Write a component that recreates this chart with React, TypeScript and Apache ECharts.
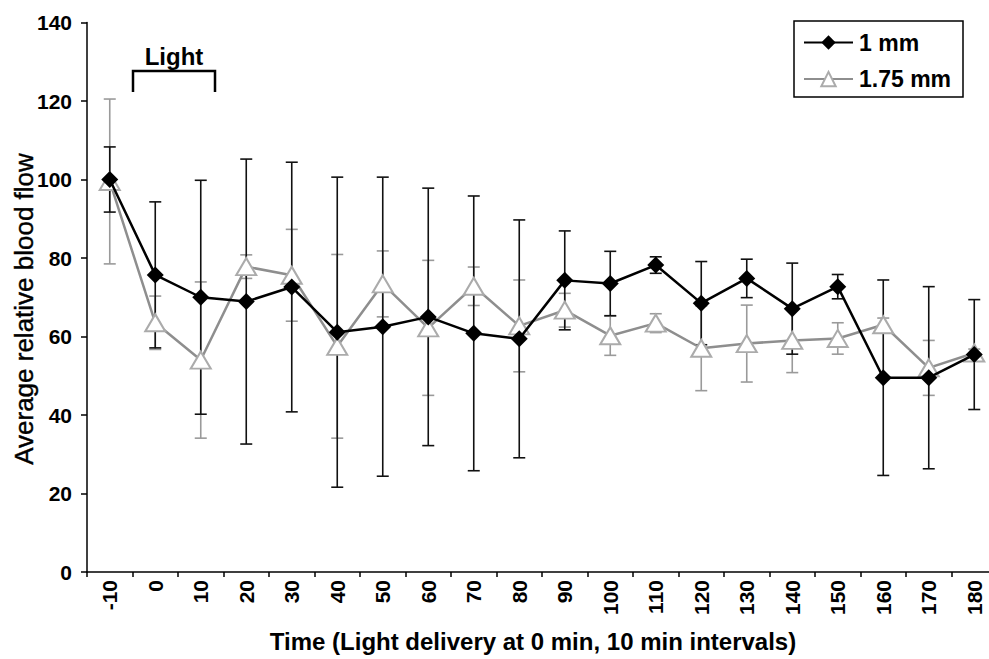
import React, { useEffect, useRef } from 'react';
import * as echarts from 'echarts';

const categories = ['-10', '0', '10', '20', '30', '40', '50', '60', '70', '80', '90', '100', '110', '120', '130', '140', '150', '160', '170', '180'];
const mean1mm = [100, 75.7, 70, 68.9, 72.6, 61.1, 62.5, 65, 60.8, 59.4, 74.3, 73.5, 78.2, 68.5, 74.8, 67.1, 72.7, 49.5, 49.5, 55.4];
const err1mm = [8.3, 18.6, 29.8, 36.3, 31.8, 39.5, 38.1, 32.8, 35, 30.3, 12.6, 8.2, 2.1, 10.6, 4.9, 11.6, 3.1, 24.9, 23.2, 14];
const mean175 = [99.5, 63.5, 54, 77.8, 75.6, 57.5, 73.4, 62.2, 72.8, 62.7, 66.7, 60.2, 63.4, 57, 58.2, 59, 59.5, 63, 52, 55.8];
const err175 = [21, 6.8, 19.9, 3, 11.7, 23.4, 8.4, 17.2, 4.9, 11.7, 4.3, 5, 2.4, 10.8, 9.8, 8.2, 4, 1.7, 7, 1];

const FONT = '"Liberation Sans", Arial, sans-serif';

function errorBarSeries(name: string, means: number[], errs: number[], color: string) {
  return {
    type: 'custom',
    name,
    coordinateSystem: 'cartesian2d',
    clip: false,
    silent: true,
    encode: { x: 0, y: [1, 2] },
    data: means.map((m, i) => [i, m - errs[i], m + errs[i]]),
    renderItem: (params: any, api: any) => {
      const idx = api.value(0);
      const lo = api.coord([idx, api.value(1)]);
      const hi = api.coord([idx, api.value(2)]);
      const hw = 6;
      const style = { stroke: color, lineWidth: 1.6 };
      return {
        type: 'group',
        children: [
          { type: 'line', shape: { x1: lo[0], y1: lo[1], x2: hi[0], y2: hi[1] }, style },
          { type: 'line', shape: { x1: lo[0] - hw, y1: lo[1], x2: lo[0] + hw, y2: lo[1] }, style },
          { type: 'line', shape: { x1: hi[0] - hw, y1: hi[1], x2: hi[0] + hw, y2: hi[1] }, style },
        ],
      };
    },
  };
}

export default function App() {
  const ref = useRef<HTMLDivElement>(null);
  useEffect(() => {
    if (!ref.current) return;
    const chart = echarts.init(ref.current, null, { renderer: 'svg' });
    chart.setOption({
      animation: false,
      textStyle: { fontFamily: FONT },
      grid: { left: 87, right: 3, top: 22.5, bottom: 87, containLabel: false },
      legend: {
        data: ['1 mm', '1.75 mm'],
        orient: 'vertical',
        left: 803,
        top: 31,
        padding: 0,
        itemWidth: 49,
        itemHeight: 18,
        itemGap: 13.6,
        textStyle: { fontSize: 23, fontWeight: 'bold', color: '#000', fontFamily: FONT, padding: [0, 0, 0, 1] },
      },
      xAxis: {
        type: 'category',
        data: categories,
        boundaryGap: true,
        axisLine: { lineStyle: { color: '#000', width: 1.5 } },
        axisTick: { show: true, length: 5, lineStyle: { color: '#000', width: 1.5 } },
        axisLabel: { rotate: 90, interval: 0, margin: 8, fontSize: 21, fontWeight: 'bold', color: '#000', fontFamily: FONT },
        splitLine: { show: false },
      },
      yAxis: {
        type: 'value',
        min: 0,
        max: 140,
        interval: 20,
        axisLine: { show: true, lineStyle: { color: '#000', width: 1.5 } },
        axisTick: { show: true, length: 6, lineStyle: { color: '#000', width: 1.5 } },
        axisLabel: { margin: 15, fontSize: 21, fontWeight: 'bold', color: '#000', fontFamily: FONT },
        splitLine: { show: false },
      },
      graphic: [
        {
          type: 'text',
          x: 24,
          y: 309,
          rotation: Math.PI / 2,
          style: {
            text: 'Average relative blood flow',
            font: `normal 26px ${FONT}`,
            fill: '#000',
            stroke: '#000',
            lineWidth: 0.4,
            align: 'center',
            verticalAlign: 'middle',
          },
        },
        {
          type: 'text',
          x: 533,
          y: 641,
          style: {
            text: 'Time (Light delivery at 0 min, 10 min intervals)',
            font: `bold 24px ${FONT}`,
            fill: '#000',
            align: 'center',
            verticalAlign: 'middle',
          },
        },
        {
          type: 'text',
          x: 174,
          y: 56,
          style: {
            text: 'Light',
            font: `bold 24px ${FONT}`,
            fill: '#000',
            align: 'center',
            verticalAlign: 'middle',
          },
        },
        {
          type: 'polyline',
          shape: { points: [[133, 92], [133, 71], [215, 71], [215, 92]] },
          style: { stroke: '#000', lineWidth: 2.5, fill: 'none' },
        },
        {
          type: 'rect',
          shape: { x: 794, y: 21, width: 169, height: 76 },
          style: { stroke: '#000', lineWidth: 1.5, fill: 'none' },
        },
      ],
      series: [
        errorBarSeries('err175', mean175, err175, '#9a9a9a'),
        errorBarSeries('err1mm', mean1mm, err1mm, '#111'),
        {
          type: 'line',
          name: '1.75 mm',
          data: mean175,
          symbol: 'triangle',
          symbolSize: [20, 17],
          lineStyle: { color: '#8e8e8e', width: 2.5 },
          itemStyle: { color: '#ffffff', borderColor: '#ababab', borderWidth: 2, opacity: 1 },
          z: 3,
        },
        {
          type: 'line',
          name: '1 mm',
          data: mean1mm,
          symbol: 'diamond',
          symbolSize: 17,
          lineStyle: { color: '#000', width: 2.5 },
          itemStyle: { color: '#000', borderColor: '#000', borderWidth: 0 },
          z: 4,
        },
      ],
    });
    return () => chart.dispose();
  }, []);
  return (
    <div style={{ position: 'fixed', left: 0, top: 0, width: 989, height: 659, overflow: 'hidden', background: '#fff' }}>
      <div ref={ref} style={{ width: 1000, height: 659 }} />
    </div>
  );
}
